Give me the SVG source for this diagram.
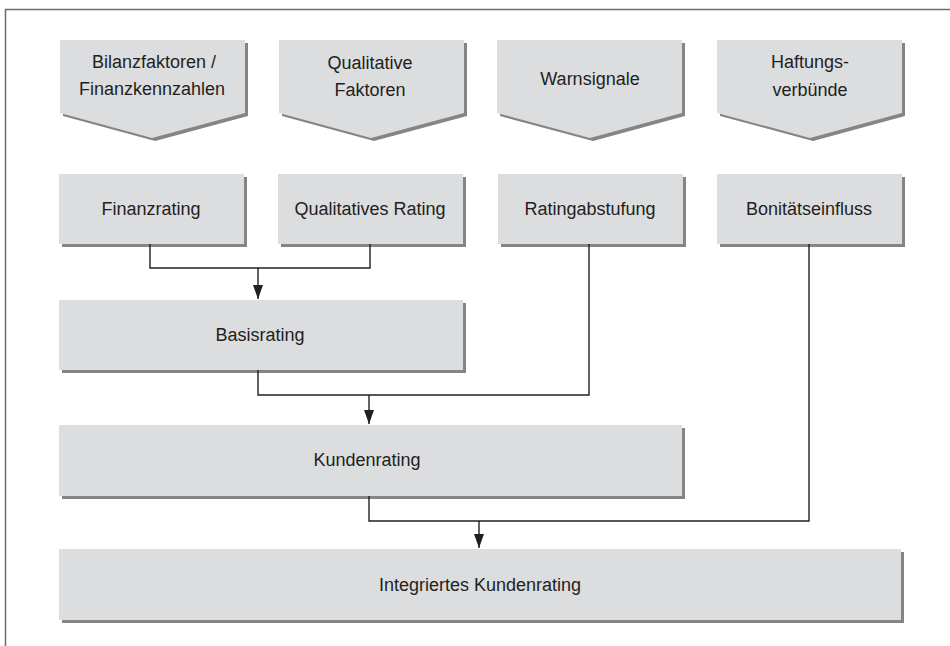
<svg xmlns="http://www.w3.org/2000/svg" width="950" height="646" viewBox="0 0 950 646">
<style>
.box{fill:#dcdddf}
.sh{fill:#858585}
.t{font-family:"Liberation Sans",Arial,sans-serif;font-size:18px;fill:#231f20;text-anchor:middle}
.c{fill:none;stroke:#231f20;stroke-width:1.4}
</style>
<defs>
<marker id="ah" markerWidth="14" markerHeight="10" refX="14" refY="5" orient="auto" markerUnits="userSpaceOnUse" viewBox="0 0 14 10">
<path d="M0,0 L14,5 L0,10 Z" fill="#231f20"/>
</marker>
</defs>
<rect width="950" height="646" fill="#fff"/>
<path d="M5.5,646 V9.5 H950" fill="none" stroke="#6d6d6d" stroke-width="1.5"/>

<g id="n-bilanz">
<polygon class="sh" points="63,43 248,43 248,116 155,141 63,116"/>
<polygon class="box" points="60,40 245,40 245,113 152,138 60,113"/>
<text class="t" x="154" y="68">Bilanzfaktoren /</text>
<text class="t" x="152" y="95">Finanzkennzahlen</text>
</g>
<g id="n-qualfak">
<polygon class="sh" points="282,43 467,43 467,116 374,141 282,116"/>
<polygon class="box" points="279,40 464,40 464,113 371,138 279,113"/>
<text class="t" x="370" y="69">Qualitative</text>
<text class="t" x="370" y="96">Faktoren</text>
</g>
<g id="n-warn">
<polygon class="sh" points="500,43 685,43 685,116 593,141 500,116"/>
<polygon class="box" points="497,40 682,40 682,113 590,138 497,113"/>
<text class="t" x="590" y="85">Warnsignale</text>
</g>
<g id="n-haft">
<polygon class="sh" points="720,43 905,43 905,116 813,141 720,116"/>
<polygon class="box" points="717,40 902,40 902,113 810,138 717,113"/>
<text class="t" x="810" y="68">Haftungs-</text>
<text class="t" x="810" y="96">verbünde</text>
</g>

<g id="n-finanzrating">
<rect class="sh" x="62" y="177" width="185" height="70"/>
<rect class="box" x="59" y="174" width="185" height="70"/>
<text class="t" x="151" y="215">Finanzrating</text>
</g>
<g id="n-qualrating">
<rect class="sh" x="281" y="177" width="185" height="70"/>
<rect class="box" x="278" y="174" width="185" height="70"/>
<text class="t" x="370" y="215">Qualitatives Rating</text>
</g>
<g id="n-ratingabstufung">
<rect class="sh" x="501" y="177" width="185" height="70"/>
<rect class="box" x="498" y="174" width="185" height="70"/>
<text class="t" x="590" y="215">Ratingabstufung</text>
</g>
<g id="n-bonitaet">
<rect class="sh" x="720" y="177" width="185" height="70"/>
<rect class="box" x="717" y="174" width="185" height="70"/>
<text class="t" x="809" y="215">Bonitätseinfluss</text>
</g>

<g id="n-basisrating">
<rect class="sh" x="62" y="303" width="404" height="70"/>
<rect class="box" x="59" y="300" width="404" height="70"/>
<text class="t" x="260" y="341">Basisrating</text>
</g>
<g id="n-kundenrating">
<rect class="sh" x="62" y="428" width="623" height="71"/>
<rect class="box" x="59" y="425" width="623" height="71"/>
<text class="t" x="367" y="466">Kundenrating</text>
</g>
<g id="n-integriert">
<rect class="sh" x="62" y="552" width="842" height="71"/>
<rect class="box" x="59" y="549" width="842" height="71"/>
<text class="t" x="480" y="591">Integriertes Kundenrating</text>
</g>

<g id="connectors">
<path class="c" d="M150,244 V268 H370 V244"/>
<path class="c" d="M258,268 V299" marker-end="url(#ah)"/>
<path class="c" d="M589,244 V395 H258 V370"/>
<path class="c" d="M369,395 V424" marker-end="url(#ah)"/>
<path class="c" d="M809,244 V521 H369 V496"/>
<path class="c" d="M479,521 V548" marker-end="url(#ah)"/>
</g>
</svg>
